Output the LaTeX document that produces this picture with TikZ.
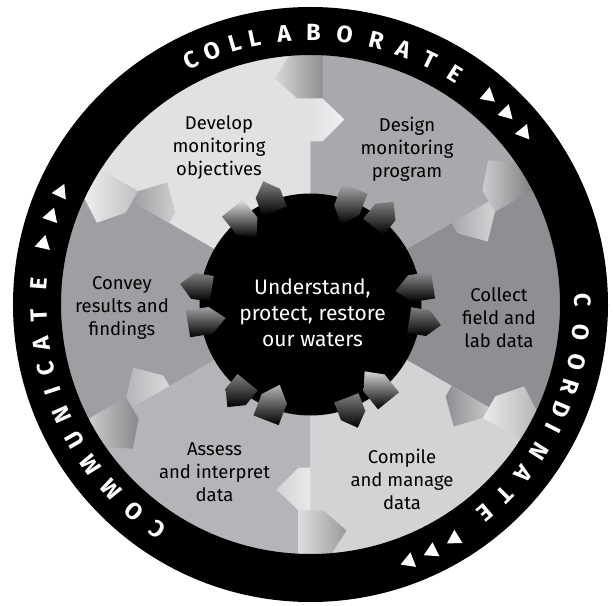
\documentclass[tikz,border=0pt]{standalone}
\usepackage{fontspec}
\setmainfont{Fira Sans}
\usetikzlibrary{shapes.geometric}
\definecolor{secdev}{HTML}{E0E1E3}
\definecolor{secdes}{HTML}{A8A9AC}
\definecolor{seccol}{HTML}{8E8F92}
\definecolor{seccmp}{HTML}{D2D3D5}
\definecolor{secass}{HTML}{B4B5B8}
\definecolor{seccon}{HTML}{9E9FA2}
\tikzset{
  steplabel/.style ={align=center,font=\fontsize{18.5}{23}\selectfont,inner sep=0pt},
  hublabel/.style  ={align=center,font=\fontsize{21}{26}\selectfont,text=white,inner sep=0pt},
  hub/.style       ={circle,fill=black,minimum size=222pt,inner sep=0pt},
  ringletter/.style={font=\fontsize{23.5}{23.5}\selectfont\bfseries,text=white,inner sep=0pt},
  ringarrow/.style ={regular polygon,regular polygon sides=3,minimum size=18pt,inner sep=0pt,fill=white},
  outertooth/.style={left color=#1!45!white,right color=#1!85!black},
  innertooth/.style={left color=#1,right color=#1!50!white},
  hubtooth/.style  ={bottom color=black,top color=black!50},
  spoketooth/.style={top color=#1,bottom color=black},
}

\begin{document}
\begin{tikzpicture}[x=1pt,y=1pt]
  \useasboundingbox (-310.5,-300.5) rectangle (302.5,304.5);
  % six sectors
  \foreach \s/\c in {120/secdev,60/secdes,0/seccol,-60/seccmp,-120/secass,180/seccon}{
    \fill[\c] (0,0) -- (\s-30:252) arc[start angle=\s-30,end angle=\s+30,radius=252] -- cycle;}
  % teeth where two sectors meet
  \foreach \b/\ccw/\cw in {90/secdev/secdes,30/secdes/seccol,-30/seccol/seccmp,-90/seccmp/secass,-150/secass/seccon,150/seccon/secdev}{
    \begin{scope}[rotate=\b-90]
      \shade[outertooth=\cw] (12,255) -- (-17,255) -- (-36,226) -- (-13,206) -- (12,206) -- cycle;
      \shade[innertooth=\ccw] (0,206) -- (12,206) -- (34,185) -- (12,163) -- (0,163) -- cycle;
    \end{scope}}
  \node[hub] (hub) at (0,0) {};
  % teeth between hub and sectors
  \foreach \s/\c in {120/secdev,60/secdes,0/seccol,-60/seccmp,-120/secass,180/seccon}{
    \shade[hubtooth,rotate=\s-99] (-13,100) -- (-13,119) -- (0,132) -- (13,119) -- (13,100) -- cycle;
    \shade[spoketooth=\c,rotate=\s-81] (-13.5,124) -- (-13.5,101) -- (0,86) -- (13.5,101) -- (13.5,124) -- cycle;}
  % ring
  \fill[black,even odd rule] (0,0) circle (297.5) (0,0) circle (249.5);

  \node[hublabel] (goal) at (2,-8) {Understand,\\protect, restore\\our waters};
  \node[steplabel] (develop) at (-91.5,156.5) {Develop\\monitoring\\objectives};
  \node[steplabel] (design) at (96.5,155.5) {Design\\monitoring\\program};
  \node[steplabel] (collect) at (188.5,-13) {Collect\\field and\\lab data};
  \node[steplabel] (compile) at (91.5,-174.5) {Compile\\and manage\\data};
  \node[steplabel] (assess) at (-96,-167.5) {Assess\\and interpret\\data};
  \node[steplabel] (convey) at (-188.5,-3) {Convey\\results and\\findings};

  \foreach \ch/\a [count=\i] in {C/116.0,O/111.1,L/106.2,L/101.9,A/95.6,B/89.4,O/82.8,R/76.0,A/69.9,T/63.9,E/58.0}
    \node[ringletter,rotate=\a-90] (collab\i) at (\a:272) {\ch};
  \foreach \a [count=\i] in {49.6,44.4,38.9}
    \node[ringarrow,rotate=\a-180] (collabarrow\i) at (\a:274) {};
  \foreach \ch/\a [count=\i] in {C/0.9,O/-5.9,O/-12.2,R/-17.6,D/-22.8,I/-27.0,N/-32.6,A/-38.6,T/-44.4,E/-50.0}
    \node[ringletter,rotate=\a-90] (coord\i) at (\a:272) {\ch};
  \foreach \a [count=\i] in {-58.4,-63.8,-69.0}
    \node[ringarrow,rotate=\a-180] (coordarrow\i) at (\a:275) {};
  \foreach \ch/\a [count=\i] in {C/-124.4,O/-130.5,M/-137.2,M/-143.9,U/-150.2,N/-156.2,I/-161.6,C/-166.4,A/-171.6,T/-177.7,E/-184.4}
    \node[ringletter,rotate=\a-90] (commun\i) at (\a:272) {\ch};
  \foreach \a [count=\i] in {167.2,161.2,155.8}
    \node[ringarrow,rotate=\a-180] (communarrow\i) at (\a:274) {};
\end{tikzpicture}
\end{document}
